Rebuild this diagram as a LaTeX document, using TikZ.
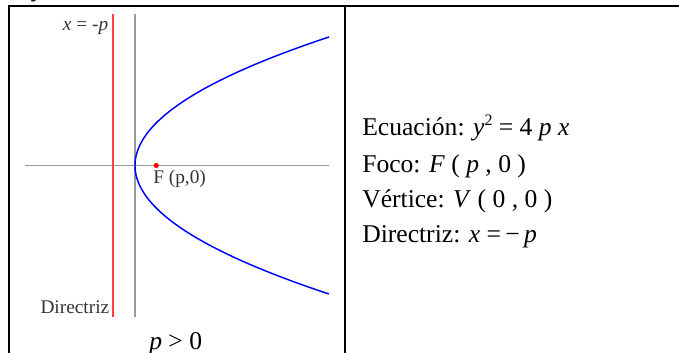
\documentclass[tikz,border=0pt]{standalone}
\usepackage{fontspec}
\setmainfont{Liberation Serif}
\begin{document}
\begin{tikzpicture}[x=0.75pt,y=-0.75pt,
  border/.style={line width=1.6pt,black},
  axisline/.style={line width=1.1pt,color=black!40},
  dirline/.style={line width=1.1pt,color=red!75},
  curve/.style={line width=1.1pt,color=blue},
  glabel/.style={inner sep=0pt,text=black!80,font=\fontsize{14.5}{17}\selectfont},
  tlabel/.style={inner sep=0pt,anchor=base west,font=\fontsize{19.2}{23}\selectfont}]
\useasboundingbox (0,0) rectangle (679,353);
% clipped fragment at the top
\begin{scope}
\clip (0,0) rectangle (679,353);
\node[inner sep=0pt,anchor=base west,font=\fontsize{19.2}{23}\selectfont\itshape] (frag) at (33,-3.5) {y};
\end{scope}
% table borders
\coordinate (tl) at (9,5.7);
\coordinate (tr) at (679,5.7);
\coordinate (bl) at (9,353);
\coordinate (mt) at (345,5.7);
\coordinate (mb) at (345,353);
\draw[border] (bl) -- (tl) -- (tr);
\draw[border] (mt) -- (mb);
% axes
\coordinate (ax1) at (25,165.5);
\coordinate (ax2) at (329,165.5);
\coordinate (ay1) at (135,14);
\coordinate (ay2) at (135,317);
\draw[axisline] (ax1) -- (ax2);
\draw[axisline] (ay1) -- (ay2);
% directrix
\coordinate (d1) at (113,14);
\coordinate (d2) at (113,317);
\draw[dirline] (d1) -- (d2);
% parabola
\draw[curve] plot[domain=-1:1,samples=121,smooth,variable=\t] ({135+194*\t*\t},{165.5+128.5*\t});
% focus
\fill[red] (156.3,165.5) circle[radius=2.6];
\node[glabel,anchor=base east] (xp) at (108.5,31) {\textit{x} = -\textit{p}};
\node[glabel,anchor=base west] (F) at (153,183) {F (p,0)};
\node[glabel,anchor=base east] (dir) at (109.5,313) {Directriz};
\node[tlabel] (pcond) at (149,349) {\textit{p} > 0};
% right column
\node[tlabel] (ec) at (362,136) {Ecuación: \textit{y}\raisebox{0.42em}{\fontsize{12}{14}\selectfont 2} = 4 \textit{p x}};
\node[tlabel] (fo) at (362,172) {Foco: \textit{F} ( \textit{p} , 0 )};
\node[tlabel] (ve) at (362,207) {Vértice: \textit{V} ( 0 , 0 )};
\node[tlabel] (di) at (362,242) {Directriz: \textit{x} =\,−\,\textit{p}};
\end{tikzpicture}
\end{document}
